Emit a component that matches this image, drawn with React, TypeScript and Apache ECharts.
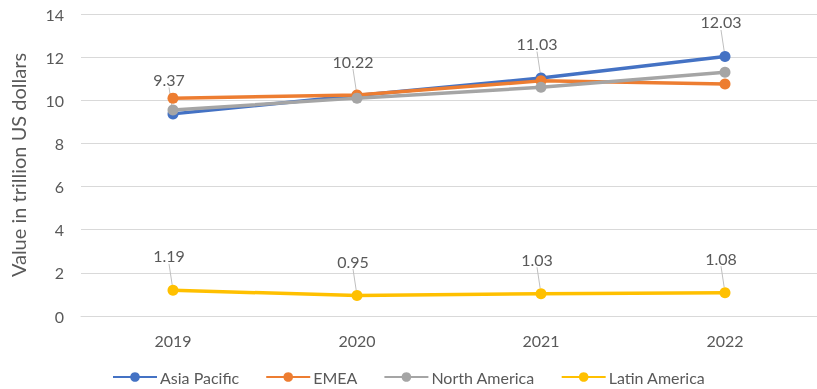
import React, { useEffect, useRef } from "react";
import * as echarts from "echarts";

const categories = ["2019", "2020", "2021", "2022"];
const asiaPacific = [9.37, 10.22, 11.03, 12.03];
const emea = [10.1, 10.25, 10.9, 10.75];
const northAmerica = [9.55, 10.1, 10.6, 11.3];
const latinAmerica = [1.19, 0.95, 1.03, 1.08];

const FONT = "Lato";
const TXT = "#595959";

export default function App() {
  const ref = useRef<HTMLDivElement>(null);
  useEffect(() => {
    const chart = echarts.init(ref.current!, null, { renderer: "svg" });
    const mk = (name: string, data: number[], color: string, labels: boolean, z: number) => ({
      name,
      type: "line",
      data,
      z,
      symbol: "circle",
      symbolSize: 11,
      lineStyle: { width: 3.5, color },
      itemStyle: { color },
      label: labels
        ? {
            show: true,
            position: "top",
            distance: 4,
            color: TXT,
            fontFamily: FONT,
            fontSize: 16,
            formatter: (p: any) => p.value.toFixed(2),
          }
        : { show: false },
      labelLayout: labels ? { dy: -17, dx: -4 } : undefined,
      labelLine: labels ? { show: true, lineStyle: { color: "#bfbfbf", width: 1 } } : undefined,
    });
    chart.setOption({
      animation: false,
      grid: { left: 77, right: 0, top: 14, bottom: 73 },
      legend: {
        top: 369,
        left: 112,
        padding: 0,
        itemWidth: 44,
        itemHeight: 12,
        itemGap: 26,
        textStyle: { color: TXT, fontFamily: FONT, fontSize: 16, padding: [0, 0, 0, -2] },
        data: ["Asia Pacific", "EMEA", "North America", "Latin America"],
      },
      xAxis: {
        type: "category",
        data: categories,
        axisLine: { lineStyle: { color: "#d9d9d9" } },
        axisTick: { show: false },
        axisLabel: { color: TXT, fontFamily: FONT, fontSize: 16, margin: 16 },
      },
      yAxis: {
        type: "value",
        min: 0,
        max: 14,
        interval: 2,
        name: "Value in trillion US dollars",
        nameLocation: "middle",
        nameGap: 53,
        nameTextStyle: { color: TXT, fontFamily: FONT, fontSize: 20 },
        axisLine: { show: false },
        axisTick: { show: false },
        axisLabel: { color: TXT, fontFamily: FONT, fontSize: 16, margin: 17 },
        splitLine: { lineStyle: { color: "#d9d9d9" } },
      },
      series: [
        mk("Asia Pacific", asiaPacific, "#4472C4", true, 2),
        mk("EMEA", emea, "#ED7D31", false, 3),
        mk("North America", northAmerica, "#A5A5A5", false, 4),
        mk("Latin America", latinAmerica, "#FFC000", true, 5),
      ],
    });
    return () => chart.dispose();
  }, []);
  return (
    <div
      ref={ref}
      style={{ position: "fixed", left: 0, top: 0, width: 817, height: 389, overflow: "hidden" }}
    />
  );
}
